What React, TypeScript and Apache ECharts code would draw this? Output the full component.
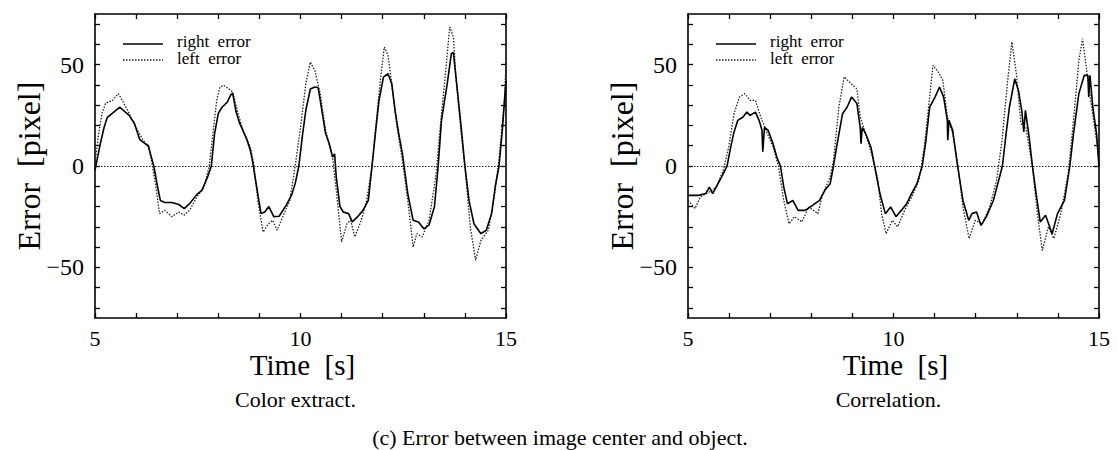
import React, { useEffect, useRef } from "react";
import * as echarts from "echarts";

// ---- Data (Time [s], Error [pixel]) ----
const colorRightT = [5.0,5.13,5.22,5.3,5.48,5.6,5.83,5.96,6.09,6.22,6.3,6.35,6.43,6.52,6.59,6.7,6.87,7.04,7.17,7.3,7.48,7.6,7.74,7.83,7.91,8.0,8.09,8.22,8.3,8.35,8.43,8.52,8.6,8.7,8.78,8.83,8.89,8.96,9.04,9.13,9.23,9.35,9.48,9.65,9.78,9.87,9.96,10.04,10.13,10.24,10.35,10.43,10.52,10.61,10.7,10.78,10.83,10.87,10.96,11.04,11.17,11.26,11.39,11.52,11.65,11.74,11.83,11.91,12.02,12.13,12.22,12.3,12.39,12.48,12.52,12.61,12.74,12.87,13.0,13.13,13.26,13.35,13.43,13.57,13.67,13.72,13.8,13.91,14.0,14.1,14.22,14.39,14.52,14.65,14.74,14.83,14.91,15.0];
const colorRightV = [-2,11,19,24,27,29,25,21,13,11,10,6,0,-10,-17,-18,-18,-19,-21,-18.6,-14,-12,-5.4,0,16,26,29,31.5,35,36,27,21,17.6,12.7,7.7,2.8,-5,-13.6,-23.5,-22.7,-20,-25,-24.8,-19.4,-14.5,-8.7,0,14,27.5,38,39,38.6,27.5,16,11,4.4,6,-5.4,-20,-22.7,-23.5,-27.6,-25,-21.9,-17,0,17.6,32.4,44,45.5,40.6,27.5,16,6,0,-13.6,-26.8,-27.6,-31,-29,-20,0,22.5,40.6,55.4,56,40.6,19,0,-17,-28.5,-33.4,-31.7,-23.5,-10,0,17.6,42];

const colorLeftT = [5.0,5.09,5.17,5.26,5.43,5.57,5.7,5.83,6.0,6.17,6.3,6.39,6.48,6.57,6.7,6.87,7.04,7.17,7.3,7.48,7.65,7.78,7.87,7.96,8.04,8.13,8.26,8.35,8.48,8.6,8.78,8.87,8.96,9.09,9.22,9.32,9.43,9.57,9.74,9.87,10.0,10.13,10.24,10.35,10.48,10.61,10.78,10.87,11.0,11.13,11.22,11.32,11.48,11.61,11.74,11.87,11.96,12.04,12.13,12.22,12.35,12.48,12.61,12.74,12.83,12.96,13.13,13.3,13.43,13.52,13.63,13.72,13.78,13.91,14.0,14.13,14.26,14.39,14.57,14.7,14.83,14.96,15.0];
const colorLeftV = [1,16,26,31,32.4,35.7,31,26,19,12.7,9.4,1,-10,-23.5,-21.9,-25,-22.7,-24.3,-21.9,-15.3,-10.4,0,16,32.4,39,39.8,38,36.5,26,17.6,9.4,0,-17,-32.6,-28.5,-26.8,-31.7,-25,-17,0,19,40.6,51.3,47,35.7,17.6,4.4,-12,-37.5,-28.5,-26.8,-35,-26.8,-17,0,27.5,45.5,58.7,54.6,40.6,19,2.8,-17,-40,-33.4,-35,-26.8,-3.8,25.8,44,68.6,63.7,44,16,0,-30,-46.5,-36.7,-31.7,-17,2.8,32.4,50.5];

const corrRightT = [5.0,5.26,5.43,5.52,5.6,5.73,5.86,5.95,6.04,6.12,6.21,6.34,6.43,6.51,6.64,6.73,6.8,6.82,6.86,6.95,7.07,7.16,7.25,7.33,7.42,7.55,7.68,7.85,8.03,8.2,8.33,8.46,8.54,8.63,8.76,8.87,8.98,9.11,9.19,9.21,9.24,9.32,9.45,9.54,9.67,9.8,9.93,10.06,10.19,10.32,10.44,10.57,10.7,10.79,10.88,11.01,11.12,11.22,11.31,11.32,11.35,11.44,11.56,11.69,11.83,11.91,12.02,12.13,12.26,12.43,12.56,12.65,12.74,12.82,12.95,13.04,13.12,13.17,13.21,13.3,13.38,13.47,13.57,13.7,13.86,13.99,14.16,14.29,14.38,14.51,14.64,14.73,14.75,14.78,14.85,14.94,15.0];
const corrRightV = [-14.5,-14.5,-13.6,-10.4,-13.6,-8.7,-3.8,0,9.4,16.8,22.5,24.2,26.6,25,26.6,22.5,17.6,7,19,17.6,11,4.4,0,-10.4,-18.6,-17,-21.9,-21.9,-19.4,-17,-12,-8.7,0,11,25.8,29,34,30.8,19,11,19,16,9.4,0,-13.6,-23.5,-20.2,-25,-21.9,-18.6,-13.6,-8.7,0,12.7,29,34,39,34,22.5,12.7,22.5,17.6,0,-17,-26.8,-23.5,-22.7,-29.3,-25,-17,-7,0,16,29,43,37.3,27.5,16.8,27.5,14.3,0,-13.6,-27.6,-24.3,-33.4,-23.5,-17,0,16,35.7,44.7,44.7,34,44.7,29,16,0];

const corrLeftT = [5.0,5.17,5.3,5.52,5.69,5.86,5.99,6.12,6.25,6.38,6.51,6.64,6.77,6.9,7.07,7.2,7.33,7.46,7.59,7.77,7.94,8.16,8.28,8.46,8.54,8.67,8.8,8.93,9.11,9.19,9.32,9.49,9.62,9.71,9.82,9.97,10.1,10.27,10.44,10.62,10.75,10.88,10.96,11.09,11.2,11.31,11.44,11.56,11.69,11.84,11.99,12.16,12.34,12.51,12.64,12.77,12.88,12.99,13.1,13.22,13.38,13.51,13.62,13.77,13.9,14.07,14.25,14.38,14.51,14.6,14.69,14.81,14.94,15.0];
const corrLeftV = [-17,-21,-15.3,-12.8,-10.4,-2,9.4,25.8,34,35.7,32.4,32.4,24.2,17.6,9.4,0,-17,-28.5,-25,-27.6,-20.2,-23.5,-13.6,-5.4,2.8,29,44,41.4,38,24.2,16,4.4,-7,-23.5,-33.4,-26.8,-30,-21.9,-15.3,-7,9.4,34,49.7,46.4,42.3,24.2,16,1,-20.2,-35.8,-26.8,-28.5,-20.2,-7,12.7,40.6,61.2,45.5,20.9,19,0,-25,-41.6,-30,-35.8,-23.5,-3.8,22.5,52,62.8,48.8,30.8,12.7,2.8];

const xLabelValues = [5, 10, 15];
const xTickValues = [5, 6, 7, 8, 9, 10, 11, 12, 13, 14, 15];
const yLabelValues = [-50, 0, 50];
const yTickValues = [-70, -60, -50, -40, -30, -20, -10, 0, 10, 20, 30, 40, 50, 60, 70];
const legendNames = ["right  error", "left  error"];
const subCaptions = ["Color extract.", "Correlation."];
const xTitle = "Time  [s]";
const yTitle = "Error  [pixel]";
const mainCaption = "(c) Error between image center and object.";

const zip = (t: number[], v: number[]) => t.map((x, i) => [x, v[i]]);

const FONT = "Liberation Serif";

export default function App() {
  const ref = useRef<HTMLDivElement>(null);
  useEffect(() => {
    if (!ref.current) return;
    const chart = echarts.init(ref.current, undefined, { renderer: "svg" });
    const grids = [
      { left: 95, top: 14, width: 411, height: 304 },
      { left: 688, top: 14, width: 411, height: 304 },
    ];
    const axisLine = { show: true, onZero: false, lineStyle: { color: "#000", width: 1.6 } };
    const tickStyle = { color: "#000", width: 1.3 };
    const xAxes: any[] = [];
    const yAxes: any[] = [];
    grids.forEach((_, gi) => {
      xAxes.push({
        type: "value", gridIndex: gi, min: 5, max: 15, position: "bottom",
        axisLine,
        splitLine: { show: false },
        axisTick: { show: true, inside: true, length: 5, customValues: xTickValues, lineStyle: tickStyle },
        axisLabel: { show: true, customValues: xLabelValues, margin: 9, fontSize: 22, fontFamily: FONT, color: "#000" },
      });
      xAxes.push({
        type: "value", gridIndex: gi, min: 5, max: 15, position: "top",
        axisLine,
        splitLine: { show: false },
        axisTick: { show: true, inside: true, length: 5, customValues: xTickValues, lineStyle: tickStyle },
        axisLabel: { show: false },
      });
      yAxes.push({
        type: "value", gridIndex: gi, min: -75, max: 75, position: "left",
        axisLine,
        splitLine: { show: false },
        axisTick: { show: true, inside: true, length: 5, customValues: yTickValues, lineStyle: tickStyle },
        axisLabel: {
          show: true, customValues: yLabelValues, margin: 11, fontSize: 24, fontFamily: FONT, color: "#000",
          formatter: (v: number) => (v < 0 ? "\u2212" + Math.abs(v) : String(v)),
        },
      });
      yAxes.push({
        type: "value", gridIndex: gi, min: -75, max: 75, position: "right",
        axisLine,
        splitLine: { show: false },
        axisTick: { show: true, inside: true, length: 5, customValues: yTickValues, lineStyle: tickStyle },
        axisLabel: { show: false },
      });
    });

    const datasets = [
      [zip(colorRightT, colorRightV), zip(colorLeftT, colorLeftV)],
      [zip(corrRightT, corrRightV), zip(corrLeftT, corrLeftV)],
    ];
    const series: any[] = [];
    datasets.forEach((pair, gi) => {
      series.push({
        type: "line", name: legendNames[1], xAxisIndex: gi * 2, yAxisIndex: gi * 2,
        data: pair[1], showSymbol: false, symbol: "none", silent: true,
        lineStyle: { color: "#222", width: 1.3, type: [1.5, 1.5] },
        markLine: {
          silent: true, symbol: "none", label: { show: false },
          lineStyle: { color: "#222", width: 1.2, type: [1.5, 1.5] },
          data: [{ yAxis: 0 }],
        },
        z: 2,
      });
      series.push({
        type: "line", name: legendNames[0], xAxisIndex: gi * 2, yAxisIndex: gi * 2,
        data: pair[0], showSymbol: false, symbol: "none", silent: true,
        lineStyle: { color: "#000", width: 1.6, type: "solid" },
        z: 3,
      });
    });

    const graphic: any[] = [];
    const txt = (x: number, y: number, text: string, size: number, align = "center", extra: any = {}) => ({
      type: "text", x, y, silent: true, ...extra,
      style: {
        text, fill: "#000", fontSize: size, fontFamily: FONT,
        textAlign: align, align,
        textVerticalAlign: "middle", verticalAlign: "middle",
      },
    });
    grids.forEach((g, gi) => {
      const lx = g.left + 28;
      graphic.push({ type: "line", silent: true, shape: { x1: lx, y1: 44, x2: lx + 40, y2: 44 }, style: { stroke: "#000", lineWidth: 1.6 } });
      graphic.push({ type: "line", silent: true, shape: { x1: lx, y1: 60, x2: lx + 40, y2: 60 }, style: { stroke: "#222", lineWidth: 1.3, lineDash: [1.5, 1.5] } });
      graphic.push(txt(lx + 54, 41, legendNames[0], 17, "left"));
      graphic.push(txt(lx + 54, 58, legendNames[1], 17, "left"));
      graphic.push(txt(g.left - 66, g.top + g.height / 2, yTitle, 32, "center", { rotation: Math.PI / 2 }));
      graphic.push(txt(g.left + g.width / 2 + 2, 365, xTitle, 29));
      graphic.push(txt(g.left + g.width / 2 - 5, 399, subCaptions[gi], 22));
    });
    graphic.push(txt(560, 437, mainCaption, 22));

    chart.setOption({
      animation: false,
      backgroundColor: "#fff",
      textStyle: { fontFamily: FONT },
      grid: grids.map((g) => ({ ...g, containLabel: false, show: false })),
      xAxis: xAxes,
      yAxis: yAxes,
      series,
      graphic,
    });
    return () => chart.dispose();
  }, []);
  return (
    <div
      ref={ref}
      style={{ position: "fixed", left: 0, top: 0, width: 1117, height: 450, background: "#fff" }}
    />
  );
}
